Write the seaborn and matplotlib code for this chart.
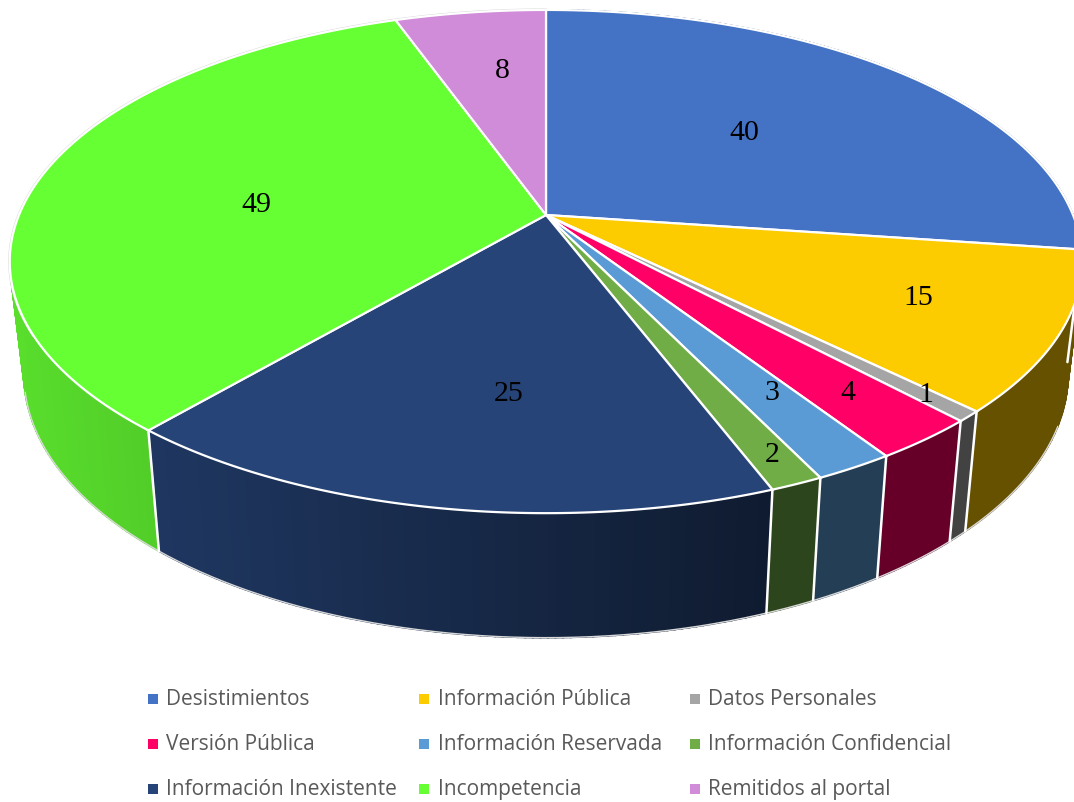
import matplotlib
matplotlib.use("Agg")
import matplotlib.pyplot as plt
import seaborn as sns
import numpy as np

# datos del grafico
categorias = ["Desistimientos", "Información Pública", "Datos Personales",
              "Versión Pública", "Información Reservada", "Información Confidencial",
              "Información Inexistente", "Incompetencia", "Remitidos al portal"]
valores = [40, 15, 1, 4, 3, 2, 25, 49, 8]
colores = ["#4472C4", "#FCCB00", "#A5A5A5", "#FF0066", "#5B9BD5", "#70AD47",
           "#264478", "#66FF33", "#D08CD8"]

# posicion de las etiquetas y de la leyenda (pixeles)
etiqueta_x = [744, 918, 926, 848, 772, 772, 509, 256, 502]
etiqueta_y = [133, 298, 395, 393, 393, 455, 394, 205, 71]
leyenda_x = [153, 424, 695]
leyenda_y = [700, 745, 790]

CX = 546
CY = 216
K = 0.185  # perspectiva


def proyecta(t, a, b, cy):
    # t en radianes, sentido horario desde arriba
    d = 1 + K * np.cos(t)
    return CX + a * np.sin(t) / d, cy - b * np.cos(t) / d


def arriba(t):
    return proyecta(t, 527, 243, CY)


def abajo(t):
    return proyecta(t, 513, 254, 327)


sns.set_theme(style="white")
fig, ax = plt.subplots(figsize=(10.74, 8.03), dpi=100)
ax.set_position([0, 0, 1, 1])
ax.set_xlim(0, 1074)
ax.set_ylim(803, 0)
ax.axis("off")

paleta = sns.color_palette(colores)
bordes = np.concatenate([[0], np.cumsum(valores)]) / sum(valores) * 2 * np.pi

# costado del pastel, mas oscuro hacia la derecha
for i, color in enumerate(paleta):
    n = max(2, int((bordes[i + 1] - bordes[i]) / 0.012))
    ts = np.linspace(bordes[i], bordes[i + 1], n + 1)
    for t0, t1 in zip(ts[:-1], ts[1:]):
        x0, y0 = arriba(t0)
        x1, y1 = arriba(t1)
        x2, y2 = abajo(t1)
        x3, y3 = abajo(t0)
        luz = np.interp((x0 + x1) / 2 - CX, [-536, -387, 220], [0.87, 0.8, 0.4])
        c = tuple(v * luz for v in color)
        ax.fill([x0, x1, x2, x3], [y0, y1, y2, y3], facecolor=c, edgecolor=c, lw=1.2, zorder=1)

# contorno inferior
tt = np.linspace(np.pi * 0.62, np.pi * 1.42, 400)
ax.plot(*abajo(tt), color="#D9D9D9", lw=1, zorder=2)

# lineas blancas entre porciones
for b in bordes:
    if np.cos(b) < 0:
        xa, ya = arriba(b)
        xb, yb = abajo(b)
        ax.plot([xa, xb], [ya, yb], color="white", lw=1.8, zorder=2)

# contorno gris muy fino de la cara superior
tt = np.linspace(np.pi * 1.35, np.pi * 2, 400)
ax.plot(*arriba(tt), color="#D9D9D9", lw=2.2, zorder=2.5)

# cara superior
for i, color in enumerate(paleta):
    ts = np.linspace(bordes[i], bordes[i + 1], 200)
    x, y = arriba(ts)
    ax.fill(np.r_[CX, x], np.r_[CY, y], facecolor=color, edgecolor="white",
            lw=1.6, joinstyle="miter", zorder=3)

# etiquetas de datos
for v, x, y in zip(valores, etiqueta_x, etiqueta_y):
    ax.text(x, y, str(v), ha="center", va="center", fontsize=21.5, color="black",
            family="Liberation Serif", zorder=5)

# leyenda
mx = [leyenda_x[i % 3] for i in range(9)]
my = [leyenda_y[i // 3] for i in range(9)]
sns.scatterplot(x=mx, y=my, hue=categorias, hue_order=categorias, palette=colores,
                marker="s", s=50, linewidth=0, legend=False, ax=ax, zorder=5)
ax.set_xlim(0, 1074)
ax.set_ylim(803, 0)
for nombre, x, y in zip(categorias, mx, my):
    ax.text(x + 13.5, y, nombre, ha="left", va="center", fontsize=15.05, color="#595959",
            family="Open Sans", zorder=5)

fig.savefig("out.png", dpi=100)
